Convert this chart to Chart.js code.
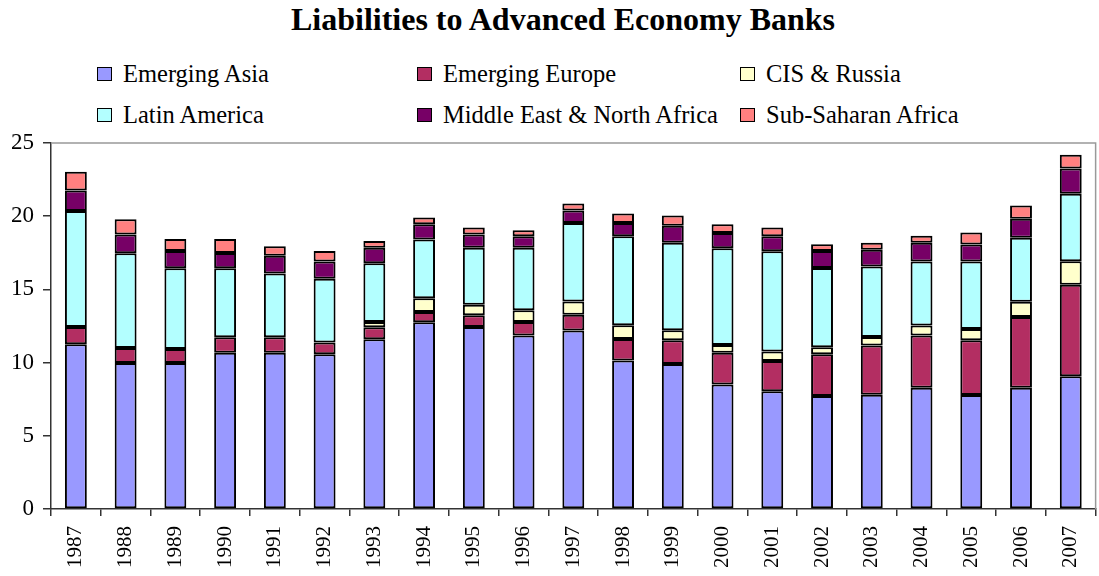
<!DOCTYPE html>
<html>
<head>
<meta charset="utf-8">
<script src="https://cdn.jsdelivr.net/npm/chart.js@4/dist/chart.umd.min.js"></script>
<style>
  html, body { margin: 0; padding: 0; background: #fff; overflow: hidden; }
  #wrap { position: relative; width: 1099px; height: 576px; overflow: hidden; }
  #title {
    position: absolute; left: 0; width: 1126px; top: 1px; text-align: center;
    font-family: 'Liberation Serif', 'Times New Roman', serif; font-weight: bold; font-size: 32px; color: #000;
  }
  .lg {
    position: absolute; font-family: 'Liberation Serif', 'Times New Roman', serif; font-size: 24.5px;
    color: #000; white-space: nowrap; line-height: 24px;
  }
  .lg span.box { position: absolute; left: -26px; top: 5px; width: 13px; height: 12px; border: 1px solid #000; }
  canvas { position: absolute; left: 0; top: 0; }
</style>
</head>
<body>
<div id="wrap">
  <div id="title">Liabilities to Advanced Economy Banks</div>
  <div id="legend"></div>
  <canvas id="chart" width="1106" height="576"></canvas>
</div>
<script>
// --- Data ---
const years = ['1987','1988','1989','1990','1991','1992','1993','1994','1995','1996','1997',
               '1998','1999','2000','2001','2002','2003','2004','2005','2006','2007']

const emergingAsia   = [11.25, 9.98, 9.98, 10.68, 10.68, 10.57, 11.59, 12.76, 12.44, 11.85, 12.19,
                        10.14, 9.91, 8.50, 8.04, 7.72, 7.81, 8.29, 7.79, 8.29, 9.07]
const emergingEurope = [1.19, 1.02, 0.95, 1.05, 1.05, 0.80, 0.82, 0.70, 0.79, 0.93, 1.07,
                        1.48, 1.62, 2.18, 2.07, 2.85, 3.35, 3.56, 3.74, 4.83, 6.24]
const cisRussia      = [0, 0, 0, 0, 0, 0, 0.37, 0.94, 0.73, 0.80, 0.91,
                        0.93, 0.68, 0.53, 0.64, 0.48, 0.59, 0.68, 0.77, 1.03, 1.61]
const latinAmerica   = [7.92, 6.47, 5.52, 4.72, 4.35, 4.35, 4.01, 4.01, 3.88, 4.26, 5.37,
                        6.08, 5.97, 6.60, 6.86, 5.42, 4.81, 4.37, 4.60, 4.37, 4.61]
const middleEast     = [1.39, 1.28, 1.18, 1.04, 1.21, 1.18, 1.05, 1.04, 0.91, 0.79, 0.85,
                        0.91, 1.16, 1.05, 1.02, 1.16, 1.14, 1.28, 1.16, 1.30, 1.73]
const subSaharan     = [1.28, 1.05, 0.82, 0.96, 0.66, 0.73, 0.47, 0.46, 0.48, 0.41, 0.48,
                        0.64, 0.71, 0.59, 0.60, 0.46, 0.48, 0.48, 0.82, 0.91, 0.93]

const yTicks = [0, 5, 10, 15, 20, 25]

const series = [
  { label: 'Emerging Asia', data: emergingAsia, color: '#9999FF' },
  { label: 'Emerging Europe', data: emergingEurope, color: '#B32E62' },
  { label: 'CIS & Russia', data: cisRussia, color: '#FFFFCC' },
  { label: 'Latin America', data: latinAmerica, color: '#B3FFFF' },
  { label: 'Middle East & North Africa', data: middleEast, color: '#770066' },
  { label: 'Sub-Saharan Africa', data: subSaharan, color: '#FF8080' }
]

// --- Legend (3 columns x 2 rows, filled row by row) ---
const legendCols = [123, 443, 766]
const legendRows = [62, 103]
const legendEl = document.getElementById('legend')
series.forEach((s, i) => {
  const d = document.createElement('div')
  d.className = 'lg'
  d.style.left = legendCols[i % 3] + 'px'
  d.style.top = legendRows[Math.floor(i / 3)] + 'px'
  const box = document.createElement('span')
  box.className = 'box'
  box.style.background = s.color
  d.appendChild(box)
  d.appendChild(document.createTextNode(s.label))
  legendEl.appendChild(d)
})

// grey frame line on top / right of the plot area
const frameTop = {
  id: 'frameTop',
  beforeDatasetsDraw(chart) {
    const { ctx, chartArea } = chart
    ctx.save()
    ctx.strokeStyle = '#999'
    ctx.lineWidth = 1.5
    ctx.beginPath()
    ctx.moveTo(chartArea.left, chartArea.top)
    ctx.lineTo(chartArea.right, chartArea.top)
    ctx.lineTo(chartArea.right, chartArea.bottom)
    ctx.stroke()
    ctx.restore()
  }
}

new Chart(document.getElementById('chart'), {
  type: 'bar',
  data: {
    labels: years,
    datasets: series.map(s => ({
      label: s.label,
      data: s.data,
      backgroundColor: s.color,
      borderColor: '#000',
      borderWidth: 2,
      borderSkipped: false,
      barPercentage: 0.44,
      categoryPercentage: 1
    }))
  },
  options: {
    responsive: false,
    animation: false,
    layout: { padding: { top: 143, right: 2, left: 0, bottom: 0 } },
    plugins: {
      legend: { display: false },
      title: { display: false },
      tooltip: { enabled: false }
    },
    scales: {
      x: {
        stacked: true,
        afterFit(scale) { scale.height = 67 },
        border: { color: '#333', width: 1.5 },
        grid: { drawOnChartArea: false, drawTicks: true, tickLength: 7, color: '#333', lineWidth: 1.5 },
        ticks: {
          color: '#000',
          minRotation: 90, maxRotation: 90,
          padding: 10,
          font: { family: "'Liberation Serif', 'Times New Roman', serif", size: 21 }
        }
      },
      y: {
        stacked: true,
        min: 0, max: 25,
        afterFit(scale) { scale.width = 51 },
        afterBuildTicks(scale) { scale.ticks = yTicks.map(v => ({ value: v })) },
        border: { color: '#333', width: 1.5 },
        grid: { drawOnChartArea: false, drawTicks: true, tickLength: 8, color: '#333', lineWidth: 1.5 },
        ticks: {
          color: '#000',
          padding: 9,
          font: { family: "'Liberation Serif', 'Times New Roman', serif", size: 23 }
        }
      }
    }
  },
  plugins: [frameTop]
})
</script>
</body>
</html>
